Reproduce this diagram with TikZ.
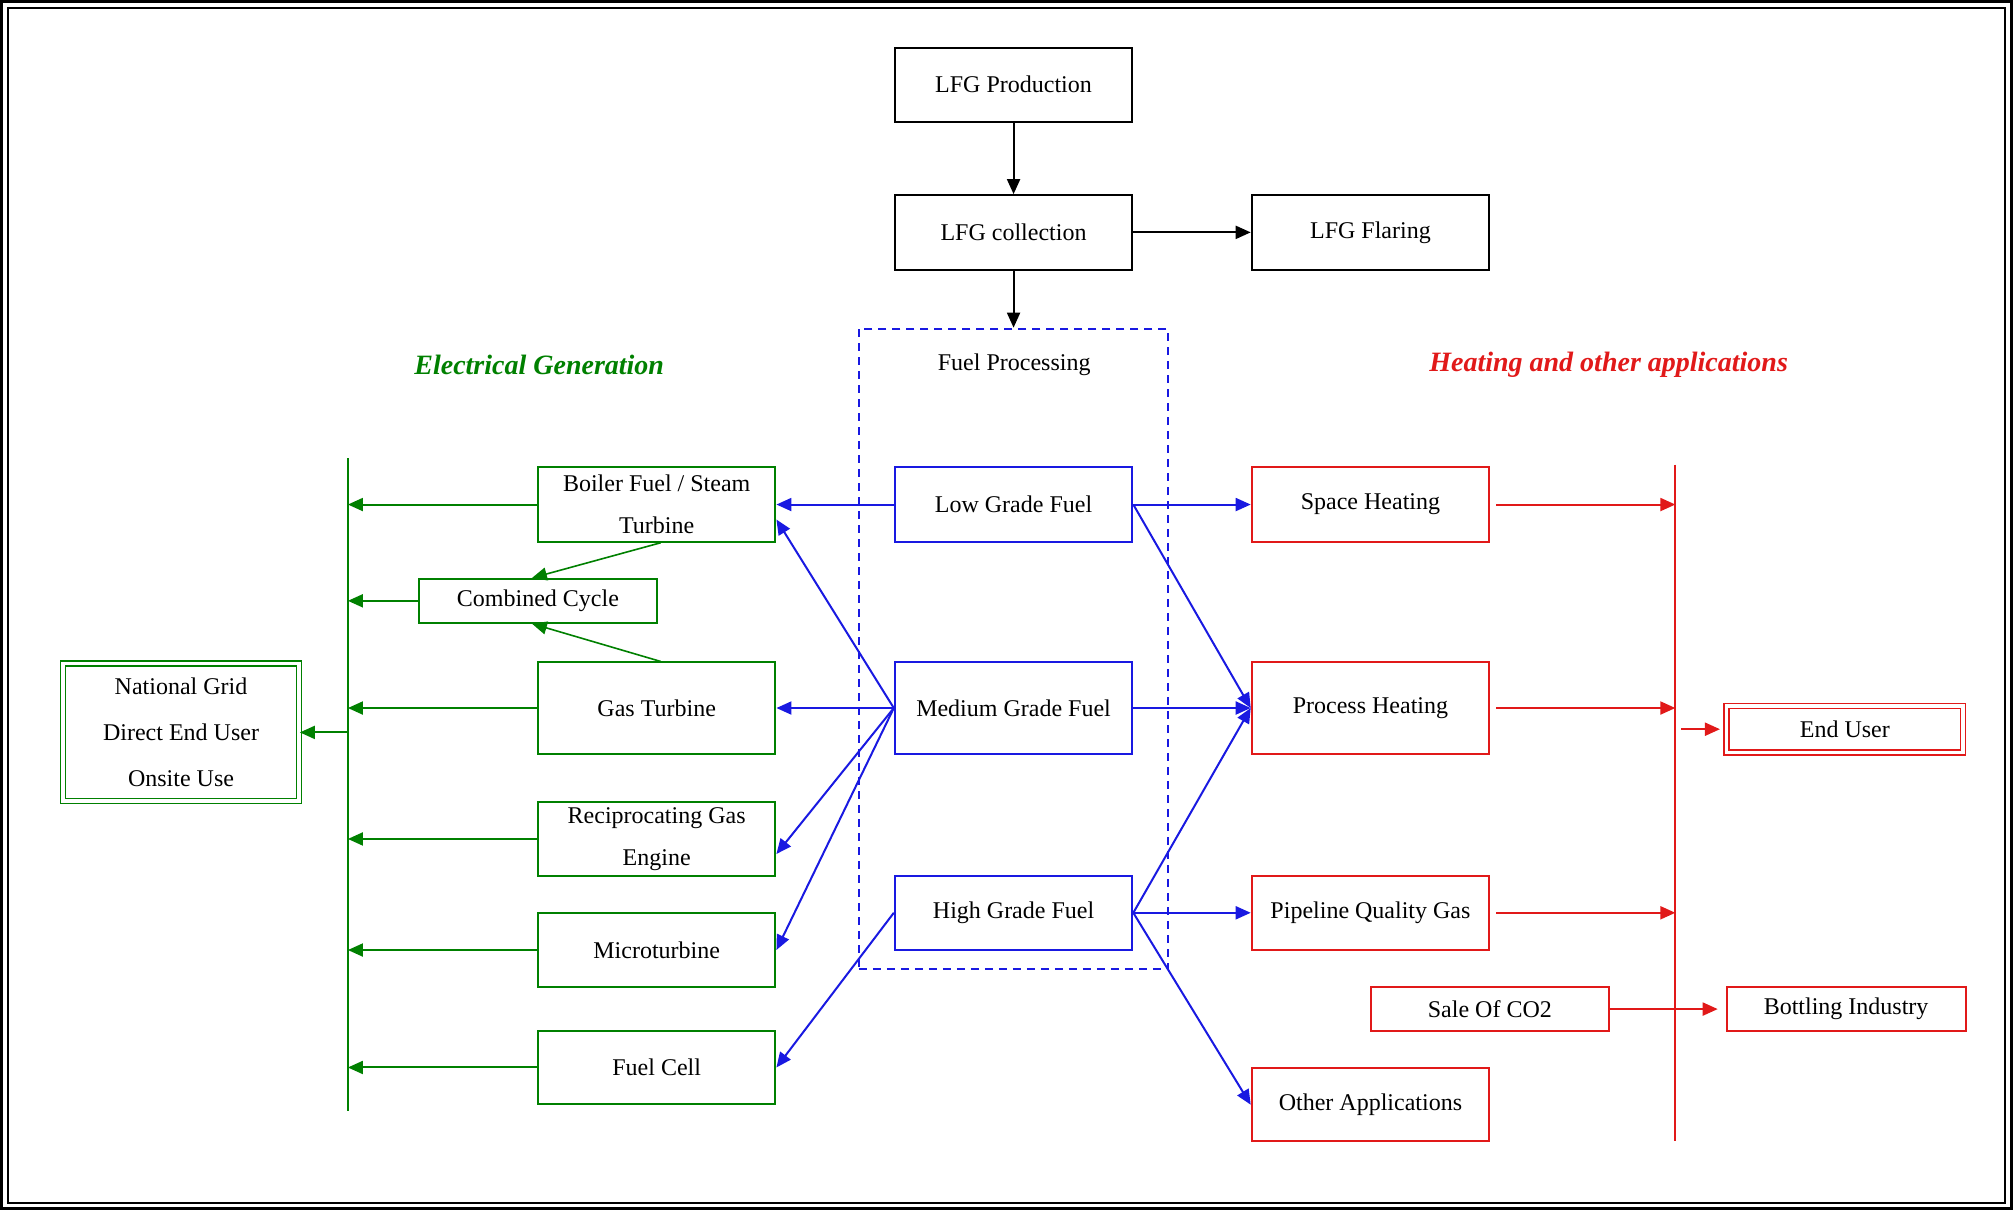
\documentclass[tikz,border=0pt]{standalone}
\usepackage{fontspec}
\setmainfont{Liberation Serif}
\usetikzlibrary{arrows.meta}
\definecolor{eg}{RGB}{0,128,0}
\definecolor{eb}{RGB}{25,25,225}
\definecolor{er}{RGB}{225,25,25}
\newcommand\pxu{1.2838pt}
\begin{document}
\begin{tikzpicture}[x=1.2838pt,y=-1.2838pt,
  box/.style={draw, line width=2pt, inner sep=0pt, align=center, text=black,
    font=\fontsize{24}{42}\selectfont, minimum width=185*\pxu, minimum height=58*\pxu},
  kbox/.style={box, draw=black},
  gbox/.style={box, draw=eg},
  bbox/.style={box, draw=eb},
  rbox/.style={box, draw=er},
  dbl/.style={double, double distance=3.5pt, line width=1.5pt},
  arr/.style={line width=2pt, -{Triangle[length=15pt,width=13pt]}},
  garr/.style={arr, draw=eg, fill=eg},
  barr/.style={arr, draw=eb, fill=eb},
  rarr/.style={arr, draw=er, fill=er},
  karr/.style={arr, draw=black, fill=black},
  head/.style={font=\fontsize{28}{32}\selectfont\bfseries\itshape}
]
\useasboundingbox (0,0) rectangle (1568,942.5);
% outer frame
\draw[line width=2.5pt] (1.2,1.2) rectangle (1566.8,941.3);
\draw[line width=2pt] (6.5,6.5) rectangle (1562,937);

% top chain
\node[kbox] (prod) at (789.5,66) {LFG Production};
\node[kbox] (coll) at (789.5,181) {LFG collection};
\node[kbox] (flar) at (1067.5,181) {LFG Flaring};

% fuel processing
\node[draw=eb, line width=2pt, dash pattern=on 8pt off 6pt, minimum width=241*\pxu, minimum height=499*\pxu, inner sep=0pt] (fp) at (789.5,505.5) {};
\node[font=\fontsize{24}{28}\selectfont] (fpl) at (790,284) {Fuel Processing};
\node[bbox] (low) at (789.5,393) {Low Grade Fuel};
\node[bbox, minimum height=71*\pxu] (med) at (789.5,551.5) {Medium Grade Fuel};
\node[bbox] (high) at (789.5,711) {High Grade Fuel};

% electrical generation
\node[head, text=eg] (eglab) at (420,284) {Electrical Generation};
\node[gbox] (boil) at (511.5,393) {Boiler Fuel / Steam\\Turbine};
\node[gbox, minimum width=186*\pxu, minimum height=34*\pxu] (comb) at (419,468) {Combined Cycle};
\node[gbox, minimum height=71*\pxu] (gas) at (511.5,551.5) {Gas Turbine};
\node[gbox, minimum height=57*\pxu] (recip) at (511.5,653.5) {Reciprocating Gas\\Engine};
\node[gbox] (micro) at (511.5,740) {Microturbine};
\node[gbox, minimum height=57*\pxu] (cell) at (511.5,831.5) {Fuel Cell};
\node[gbox, dbl, minimum width=184*\pxu, minimum height=107*\pxu, font=\fontsize{24}{46}\selectfont] (grid) at (141,570.5) {National Grid\\Direct End User\\Onsite Use};
\coordinate (gtop) at (271,357);
\coordinate (gbot) at (271,865);
\draw[eg, line width=2pt] (gtop) -- (gbot);

% heating
\node[head, text=er] (hlab) at (1253,284) {Heating and other applications};
\node[rbox] (space) at (1067.5,393) {Space Heating};
\node[rbox, minimum height=71*\pxu] (proc) at (1067.5,551.5) {Process Heating};
\node[rbox] (pipe) at (1067.5,711) {Pipeline Quality Gas};
\node[rbox, minimum height=34*\pxu] (co2) at (1160.5,786) {Sale Of CO2};
\node[rbox, minimum height=57*\pxu] (other) at (1067.5,860.5) {Other Applications};
\node[rbox, dbl, minimum width=184*\pxu, minimum height=36*\pxu] (enduser) at (1437,568) {End User};
\node[rbox, minimum width=186*\pxu, minimum height=34*\pxu] (bottl) at (1438,786) {Bottling Industry};
\coordinate (rtop) at (1305,362);
\coordinate (rbot) at (1305,889);
\draw[er, line width=2pt] (rtop) -- (rbot);

% black arrows
\draw[karr] (prod) -- (coll);
\draw[karr] (coll) -- (flar);
\draw[karr] (coll.south) -- (fp.north);

% green arrows
\foreach \n in {boil,comb,gas,recip,micro,cell}
  \draw[garr] (\n.west) -- (\n.west -| gtop);
\draw[garr] (gtop |- grid.east) -- (grid.east);
\draw[garr, line width=1.6pt] ([xshift=4pt]boil.south) -- ([xshift=-6pt]comb.north);
\draw[garr, line width=1.6pt] ([xshift=4pt]gas.north) -- ([xshift=-6pt]comb.south);

% blue arrows
\draw[barr] (low.west) -- (boil.east);
\draw[barr] (low.east) -- (space.west);
\draw[barr] (low.east) -- (proc.west);
\draw[barr] (med.west) -- ([yshift=-15pt]boil.east);
\draw[barr] (med.west) -- (gas.east);
\draw[barr] (med.west) -- ([yshift=-15pt]recip.east);
\draw[barr] (med.west) -- (micro.east);
\draw[barr] (med.east) -- (proc.west);
\draw[barr] (high.west) -- (cell.east);
\draw[barr] (high.east) -- (proc.west);
\draw[barr] (high.east) -- (pipe.west);
\draw[barr] (high.east) -- (other.west);

% red arrows
\foreach \n in {space,proc,pipe}
  \draw[rarr, shorten <=6pt] (\n.east) -- (\n.east -| rtop);
\draw[rarr, shorten >=6pt] ([xshift=6pt]rtop |- enduser.west) -- (enduser.west);
\draw[rarr, shorten >=8pt] (co2.east) -- (bottl.west);
\end{tikzpicture}
\end{document}
